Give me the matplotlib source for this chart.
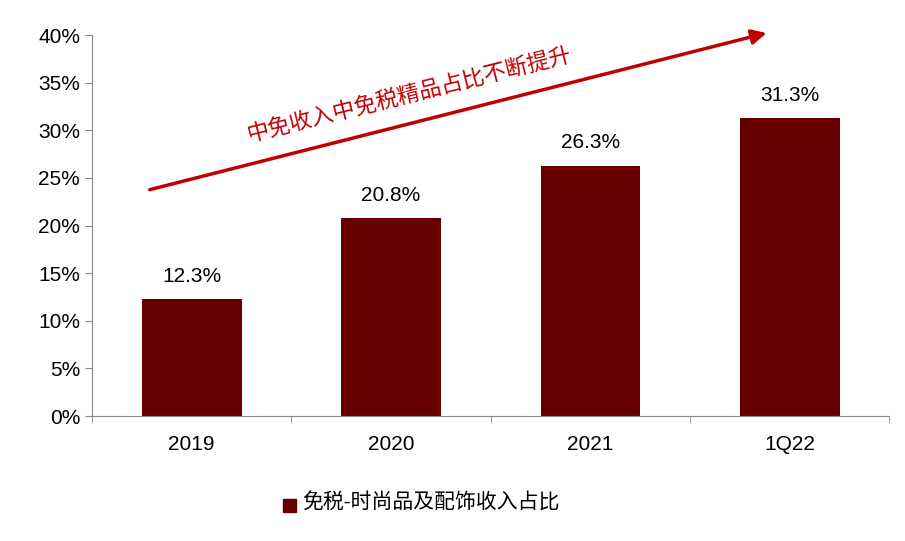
import matplotlib
matplotlib.use("Agg")
import matplotlib.pyplot as plt
from matplotlib.patches import Rectangle

plt.rcParams['font.family'] = ['Liberation Sans', 'Noto Sans CJK SC']

categories = ["2019", "2020", "2021", "1Q22"]
values = [12.3, 20.8, 26.3, 31.3]
labels = ["12.3%", "20.8%", "26.3%", "31.3%"]
yticks = [0, 5, 10, 15, 20, 25, 30, 35, 40]
legend_label = "免税-时尚品及配饰收入占比"
arrow_text = "中免收入中免税精品占比不断提升"

bar_color = "#660000"
red = "#C00000"

fig = plt.figure(figsize=(9.05, 5.41), dpi=100)
ax = fig.add_axes([0.1017, 0.231, 0.881, 0.704])
x = range(len(categories))
ax.bar(x, values, width=0.5, color=bar_color)
for i, v in enumerate(values):
    ax.text(i, v + 1.4, labels[i], ha='center', va='bottom', fontsize=15)

ax.set_xlim(-0.5, len(categories) - 0.5)
ax.set_ylim(0, 40)
ax.set_yticks(yticks)
ax.set_yticklabels([f"{t}%" for t in yticks], fontsize=15)
ax.set_xticks(list(x))
ax.set_xticklabels(categories, fontsize=15)
ax.set_xticks([i - 0.5 for i in range(len(categories) + 1)], minor=True)
ax.tick_params(axis='x', which='major', length=0, pad=14)
ax.tick_params(axis='x', which='minor', length=5, direction='out', color='#888888')
ax.tick_params(axis='y', length=5, direction='out', color='#888888')
for s in ['top', 'right']:
    ax.spines[s].set_visible(False)
for s in ['left', 'bottom']:
    ax.spines[s].set_color('#888888')

ax.annotate("", xy=(2.898, 40.3), xytext=(-0.224, 23.7),
            arrowprops=dict(arrowstyle='-|>', color=red, lw=2.5, mutation_scale=22),
            annotation_clip=False)
ax.text(1.094, 33.6, arrow_text, rotation=14, ha='center', va='center',
        color=red, fontsize=16, rotation_mode='anchor')

fig.patches.append(Rectangle((283/905, 1 - 512/541), 13/905, 13/541,
                             transform=fig.transFigure, color=bar_color))
fig.text(302/905, 1 - 503/541, legend_label, fontsize=15, va='center', ha='left')

fig.savefig("out.png", dpi=100)
